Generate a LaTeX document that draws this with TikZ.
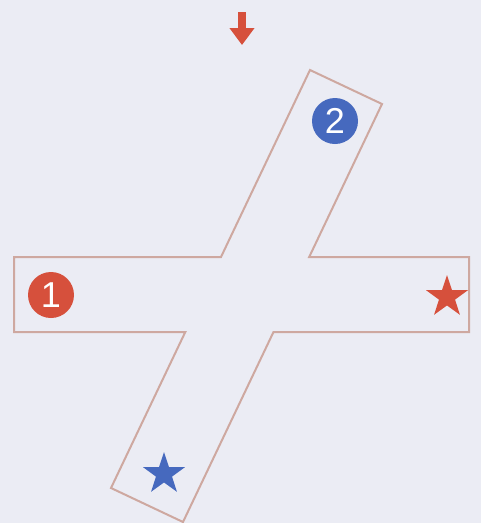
\documentclass[tikz,border=0pt]{standalone}
\usepackage{fontspec}
\setsansfont{Liberation Sans}
\usepackage{tikz}
\usetikzlibrary{shapes.geometric, arrows.meta}
\definecolor{paper}{RGB}{235,236,244}
\definecolor{trackline}{RGB}{206,168,160}
\definecolor{markred}{RGB}{214,80,60}
\definecolor{markblue}{RGB}{70,105,190}

\begin{document}
\begin{tikzpicture}[
    x=1pt, y=-1pt,
    track/.style={draw=trackline, line width=2pt, line join=miter},
    numdot/.style={circle, minimum size=46pt, inner sep=0pt, text=white,
                   font=\sffamily\fontsize{36}{36}\selectfont},
    starmark/.style={star, star points=5, star point ratio=2.6,
                     minimum size=44pt, inner sep=0pt},
    downarr/.style={-{Triangle[width=24pt, length=17pt]}, line width=8pt, color=markred}
]

% Paper
\fill[paper] (0,0) rectangle (481,523);
\useasboundingbox (0,0) rectangle (481,523);

% Horizontal bar
\coordinate (htl) at (14,257);
\coordinate (htr) at (469,257);
\coordinate (hbr) at (469,332);
\coordinate (hbl) at (14,332);

% Slanted bar
\coordinate (stl) at (310,70);
\coordinate (str) at (382,104);
\coordinate (sbr) at (183,522);
\coordinate (sbl) at (111,488);

% Cross outline
\draw[track] (stl) -- (str)
    -- (intersection of str--sbr and htl--htr) -- (htr) -- (hbr)
    -- (intersection of str--sbr and hbl--hbr) -- (sbr) -- (sbl)
    -- (intersection of stl--sbl and hbl--hbr) -- (hbl) -- (htl)
    -- (intersection of stl--sbl and htl--htr) -- cycle;

% Markers
\node[numdot, fill=markred] (one) at (51,295) {1};
\node[numdot, fill=markblue] (two) at (335,121) {2};
\node[starmark, fill=markred] (redstar) at (447,297) {};
\node[starmark, fill=markblue] (bluestar) at (164,474) {};

% Entry arrow
\coordinate (arrtop) at (242,12);
\coordinate (arrtip) at (242,45);
\draw[downarr] (arrtop) -- (arrtip);

\end{tikzpicture}
\end{document}
